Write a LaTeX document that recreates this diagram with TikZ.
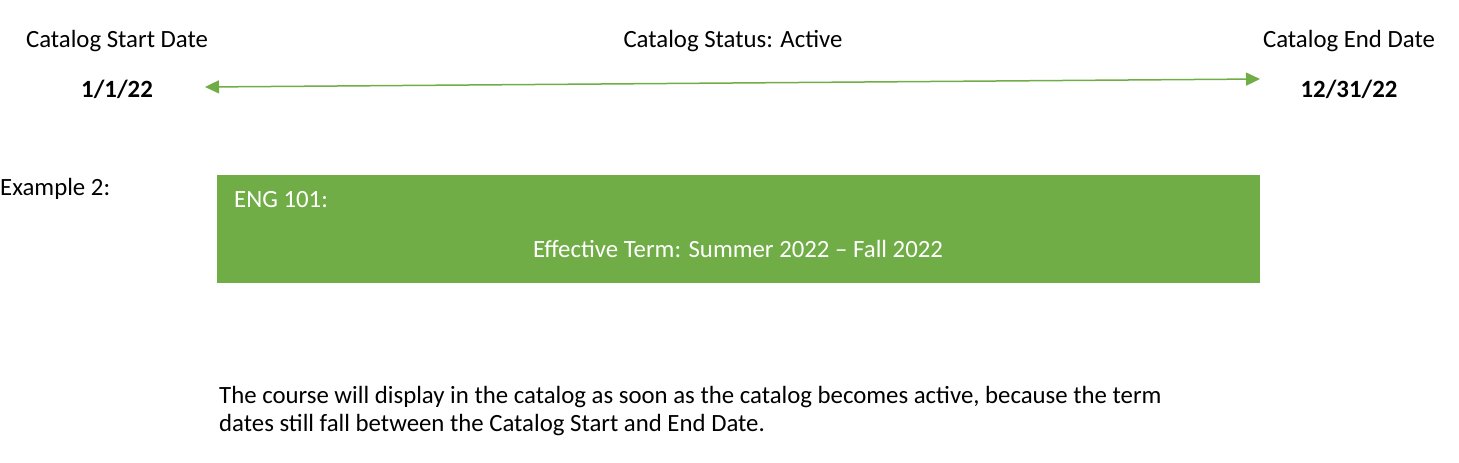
\documentclass[tikz,border=0pt]{standalone}
\usepackage{fontspec}
\setmainfont{Carlito}
\usetikzlibrary{arrows.meta}
\definecolor{ogreen}{HTML}{70AD47}
\tikzset{
  lbl/.style={font=\fontsize{24.8}{28}\selectfont, inner sep=0pt, anchor=base},
  datelbl/.style={font=\fontsize{24.8}{28}\selectfont\bfseries, inner sep=0pt, anchor=base},
  wlbl/.style={font=\fontsize{24.8}{28}\selectfont, text=white, inner sep=0pt},
  span/.style={draw=ogreen, line width=1.5pt, {Triangle[length=14pt,width=13pt]}-{Triangle[length=14pt,width=13pt]}},
}
\begin{document}
\begin{tikzpicture}[x=1pt,y=-1pt]
\useasboundingbox (0,0) rectangle (1459,463);
\node[lbl] (startlbl) at (117,47) {Catalog Start Date};
\node[lbl] (statuslbl) at (733,47) {Catalog Status: Active};
\node[lbl] (endlbl) at (1349,47) {Catalog End Date};
\node[datelbl] (startdate) at (117,97) {1/1/22};
\node[datelbl] (enddate) at (1349,97) {12/31/22};
\coordinate (astart) at (205,87);
\coordinate (aend) at (1260,79);
\draw[span] (astart) -- (aend);
\node[lbl, anchor=base west] (example) at (0,195) {Example 2:};
\fill[ogreen] (217,175) rectangle (1260,283);
\node[wlbl, anchor=base west] (eng) at (234,207) {ENG 101:};
\node[wlbl, anchor=base] (term) at (738,257) {Effective Term: Summer 2022 – Fall 2022};
\node[lbl, anchor=base west] (body1) at (219,403) {The course will display in the catalog as soon as the catalog becomes active, because the term};
\node[lbl, anchor=base west] (body2) at (219,431) {dates still fall between the Catalog Start and End Date.};
\end{tikzpicture}
\end{document}
